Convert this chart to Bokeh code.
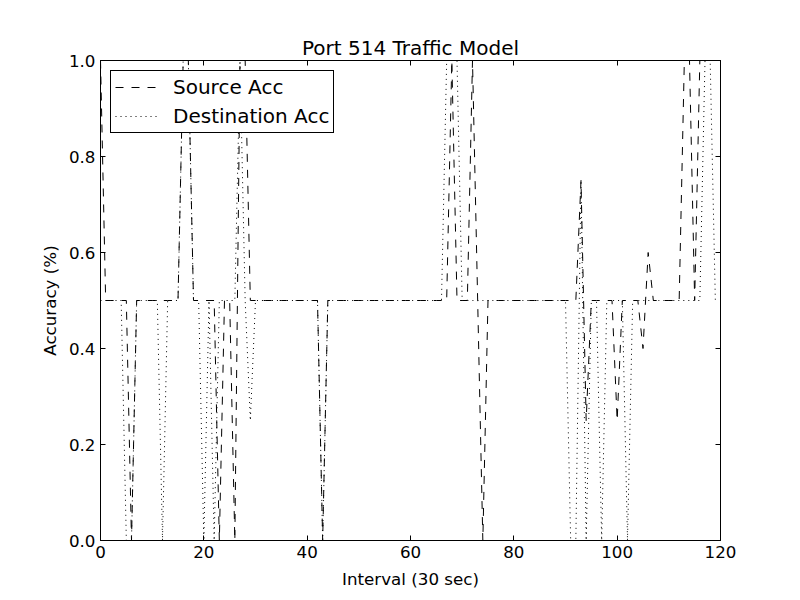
from bokeh.plotting import figure
from bokeh.models import Range1d, LinearAxis, FixedTicker, Legend, LegendItem, ColumnDataSource
from bokeh.embed import file_html
from bokeh.resources import INLINE

# ---- data ----
interval = list(range(120))

source_acc = [
    1.0, 0.5, 0.5, 0.5, 0.5, 0.5, 0.0, 0.5, 0.5, 0.5,   # 0-9
    0.5, 0.5, 0.5, 0.5, 0.5, 0.5, 1.0, 1.0, 0.5, 0.5,   # 10-19
    0.5, 0.5, 0.5, 0.0, 0.5, 0.5, 0.0, 1.0, 1.0, 0.5,   # 20-29
    0.5, 0.5, 0.5, 0.5, 0.5, 0.5, 0.5, 0.5, 0.5, 0.5,   # 30-39
    0.5, 0.5, 0.5, 0.0, 0.5, 0.5, 0.5, 0.5, 0.5, 0.5,   # 40-49
    0.5, 0.5, 0.5, 0.5, 0.5, 0.5, 0.5, 0.5, 0.5, 0.5,   # 50-59
    0.5, 0.5, 0.5, 0.5, 0.5, 0.5, 0.5, 0.5, 1.0, 0.5,   # 60-69
    0.5, 0.5, 1.0, 0.5, 0.0, 0.5, 0.5, 0.5, 0.5, 0.5,   # 70-79
    0.5, 0.5, 0.5, 0.5, 0.5, 0.5, 0.5, 0.5, 0.5, 0.5,   # 80-89
    0.5, 0.5, 0.5, 0.75, 0.25, 0.5, 0.5, 0.5, 0.5, 0.5, # 90-99
    0.25, 0.5, 0.5, 0.5, 0.5, 0.4, 0.6, 0.5, 0.5, 0.5,  # 100-109
    0.5, 0.5, 0.5, 1.0, 1.0, 0.5, 1.0, 1.0, 1.0, 1.0,   # 110-119
]

dest_acc = [
    0.5, 0.5, 0.5, 0.5, 0.5, 0.0, 0.0, 0.5, 0.5, 0.5,   # 0-9
    0.5, 0.5, 0.0, 0.5, 0.5, 0.5, 1.0, 1.0, 0.5, 0.5,   # 10-19
    0.0, 0.5, 0.0, 0.5, 0.5, 0.5, 0.5, 1.0, 0.5, 0.25,  # 20-29
    0.5, 0.5, 0.5, 0.5, 0.5, 0.5, 0.5, 0.5, 0.5, 0.5,   # 30-39
    0.5, 0.5, 0.5, 0.0, 0.5, 0.5, 0.5, 0.5, 0.5, 0.5,   # 40-49
    0.5, 0.5, 0.5, 0.5, 0.5, 0.5, 0.5, 0.5, 0.5, 0.5,   # 50-59
    0.5, 0.5, 0.5, 0.5, 0.5, 0.5, 0.5, 1.0, 1.0, 1.0,   # 60-69
    0.5, 0.5, 0.5, 0.5, 0.5, 0.5, 0.5, 0.5, 0.5, 0.5,   # 70-79
    0.5, 0.5, 0.5, 0.5, 0.5, 0.5, 0.5, 0.5, 0.5, 0.5,   # 80-89
    0.5, 0.0, 0.0, 0.75, 0.0, 0.5, 0.5, 0.0, 0.5, 0.5,  # 90-99
    0.5, 0.5, 0.0, 0.5, 0.5, 0.5, 0.5, 0.5, 0.5, 0.5,   # 100-109
    0.5, 0.5, 0.5, 0.5, 0.5, 0.5, 0.5, 1.0, 1.0, 0.5,   # 110-119
]

x_ticks = [0, 20, 40, 60, 80, 100, 120]
y_ticks = [0.0, 0.2, 0.4, 0.6, 0.8, 1.0]
y_tick_labels = ["0.0", "0.2", "0.4", "0.6", "0.8", "1.0"]

title_text = "Port 514 Traffic Model"
x_label = "Interval (30 sec)"
y_label = "Accuracy (%)"
series_names = ["Source Acc", "Destination Acc"]

# ---- figure ----
FONT = "DejaVu Sans"
TICK_FS = "16.7px"

p = figure(width=800, height=600,
           x_range=Range1d(0, 120), y_range=Range1d(0, 1),
           output_backend="svg", toolbar_location=None,
           min_border_left=100, min_border_right=80,
           min_border_top=60, min_border_bottom=60,
           title=title_text, x_axis_label=x_label, y_axis_label=y_label)

p.background_fill_color = "white"
p.border_fill_color = "white"
p.outline_line_color = "black"
p.outline_line_width = 1
p.outline_line_alpha = 1
p.xgrid.visible = False
p.ygrid.visible = False

p.title.text_font = FONT
p.title.text_font_size = "20px"
p.title.text_font_style = "normal"
p.title.align = "center"
p.title.text_color = "black"
p.title.standoff = 2

def style_axis(ax, show_labels=True):
    ax.axis_line_color = "black"
    ax.major_tick_in = 5
    ax.major_tick_out = 0
    ax.major_tick_line_color = "black"
    ax.minor_tick_line_color = None
    ax.major_label_text_font = FONT
    if show_labels:
        ax.major_label_text_color = "black"
        ax.major_label_text_font_size = TICK_FS
        ax.major_label_standoff = 5
    else:
        ax.major_label_text_color = None
        ax.major_label_text_font_size = "1px"
        ax.major_label_standoff = 0
    ax.axis_label_text_font = FONT
    ax.axis_label_text_font_size = TICK_FS
    ax.axis_label_text_font_style = "normal"
    ax.axis_label_text_color = "black"

p.xaxis.ticker = FixedTicker(ticks=x_ticks)
p.yaxis.ticker = FixedTicker(ticks=y_ticks)
p.yaxis.major_label_overrides = {t: l for t, l in zip(y_ticks, y_tick_labels)}
style_axis(p.xaxis[0])
style_axis(p.yaxis[0])
p.xaxis.axis_label_standoff = 8
p.yaxis.axis_label_standoff = 6

top_ax = LinearAxis(ticker=FixedTicker(ticks=x_ticks))
style_axis(top_ax, show_labels=False)
p.add_layout(top_ax, "above")
right_ax = LinearAxis(ticker=FixedTicker(ticks=y_ticks))
style_axis(right_ax, show_labels=False)
p.add_layout(right_ax, "right")

src = ColumnDataSource(dict(x=interval, s=source_acc, d=dest_acc))
r1 = p.line("x", "s", source=src, line_color="black", line_width=1, line_dash="8 8")
r2 = p.line("x", "d", source=src, line_color="black", line_width=1, line_dash="1 4")

legend = Legend(items=[LegendItem(label=series_names[0], renderers=[r1]),
                       LegendItem(label=series_names[1], renderers=[r2])],
                location="top_left")
legend.label_text_font = FONT
legend.label_text_font_size = "20px"
legend.label_text_color = "black"
legend.border_line_color = "black"
legend.border_line_width = 1
legend.border_line_alpha = 1
legend.background_fill_color = "white"
legend.background_fill_alpha = 1
legend.margin = 10
legend.padding = 4
legend.spacing = 5
legend.glyph_width = 42
legend.glyph_height = 20
legend.label_height = 20
legend.label_standoff = 16
p.add_layout(legend)

open("out.html", "w").write(file_html(p, INLINE))
